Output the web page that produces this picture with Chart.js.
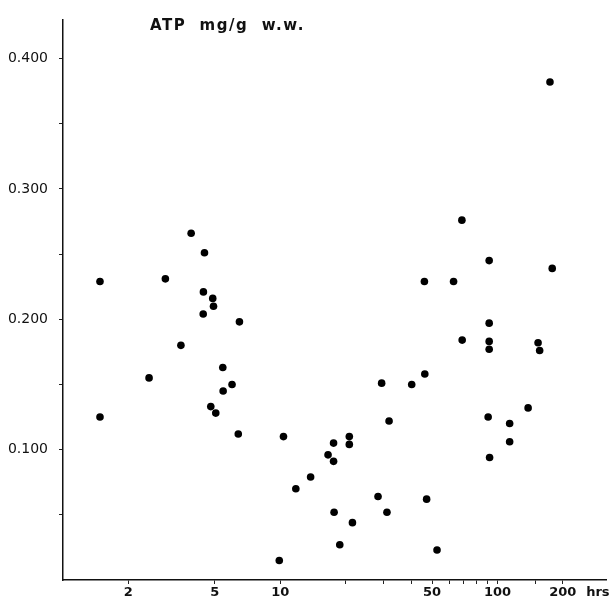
<!DOCTYPE html>
<html lang="en">
<head>
<meta charset="UTF-8">
<title>ATP mg/g w.w.</title>
<script src="https://cdn.jsdelivr.net/npm/chart.js@4/dist/chart.umd.min.js"></script>
<style>
  body { margin: 0; background: #fff; }
</style>
</head>
<body>
<canvas id="atpChart" width="611" height="601"></canvas>
<script>

// time after death (hrs) and ATP content (mg/g wet weight)
var hours = [1.48, 1.48, 2.49, 2.96, 3.49, 3.89, 4.48, 4.43, 4.89, 4.93,
             4.42, 6.49, 5.44, 6.00, 5.46, 4.79, 5.05, 6.41, 10.35, 9.90,
             11.8, 13.8, 16.6, 17.6, 17.6, 17.7, 18.8, 20.8, 20.8, 21.5,
             28.2, 29.3, 31.0, 31.7, 40.3, 46.3, 46.1, 47.2, 52.7, 62.8,
             68.6, 68.8, 91.6, 91.6, 91.6, 91.6, 90.6, 92.0, 113.8, 113.8,
             138.4, 153.8, 156.4, 174.5, 178.7];
var atp = [0.229, 0.125, 0.155, 0.231, 0.180, 0.266, 0.251, 0.221, 0.216, 0.210,
           0.204, 0.198, 0.163, 0.150, 0.145, 0.133, 0.128, 0.112, 0.110, 0.015,
           0.070, 0.079, 0.096, 0.105, 0.091, 0.052, 0.027, 0.110, 0.104, 0.044,
           0.064, 0.151, 0.052, 0.122, 0.150, 0.158, 0.229, 0.062, 0.023, 0.229,
           0.276, 0.184, 0.245, 0.197, 0.183, 0.177, 0.125, 0.094, 0.120, 0.106,
           0.132, 0.182, 0.176, 0.382, 0.239];

// axis ticks
var xLabelled = [2, 5, 10, 50, 100, 200];
var xMinor = [20, 30, 40, 60, 70, 80, 90, 150];
var xUnitPos = 290;   // where the "hrs" unit sits on the time axis
var xUnitText = 'hrs';
var yLabelled = [0.1, 0.2, 0.3, 0.4];
var yMinor = [0.05, 0.15, 0.25, 0.35];
var titleText = 'ATP  mg/g  w.w.';

var points = hours.map(function(h, i) { return { x: h, y: atp[i] }; });

// title sits inside the plot, next to the value axis
var titlePlugin = {
  id: 'innerTitle',
  afterDraw: function(chart) {
    var ctx = chart.ctx;
    var area = chart.chartArea;
    ctx.save();
    ctx.fillStyle = '#111';
    ctx.font = 'bold 15px "DejaVu Sans"';
    ctx.letterSpacing = '1.5px';
    ctx.textBaseline = 'alphabetic';
    ctx.fillText(titleText, area.left + 87, area.top + 11);
    ctx.restore();
  }
};

var config = {
  type: 'scatter',
  data: {
    datasets: [{
      label: 'ATP',
      data: points,
      backgroundColor: '#000',
      borderWidth: 0,
      pointRadius: 3.8,
      pointHoverRadius: 3.8,
    }]
  },
  options: {
    responsive: false,
    animation: false,
    layout: { padding: { left: 0, top: 14, right: 5, bottom: 0 } },
    plugins: {
      legend: { display: false },
      tooltip: { enabled: false },
    },
    scales: {
      x: {
        type: 'logarithmic',
        min: 1,
        max: 316,
        border: { display: true, color: '#111', width: 1.5 },
        grid: {
          drawOnChartArea: false,
          drawTicks: true,
          tickLength: 4,
          tickColor: function(c) {
            return (c.tick && c.tick.value === xUnitPos) ? 'rgba(0,0,0,0)' : '#222';
          },
          tickWidth: 1,
        },
        afterBuildTicks: function(scale) {
          var vals = xLabelled.concat(xMinor).concat([xUnitPos]);
          vals.sort(function(a, b) { return a - b; });
          scale.ticks = vals.map(function(v) { return { value: v }; });
        },
        afterFit: function(scale) { scale.height = 21; },
        ticks: {
          autoSkip: false,
          maxRotation: 0,
          minRotation: 0,
          padding: 1,
          color: '#111',
          font: { family: 'DejaVu Sans', size: 13, weight: 'bold' },
          callback: function(value) {
            if (value === xUnitPos) return xUnitText;
            return xLabelled.indexOf(value) >= 0 ? String(value) : '';
          }
        }
      },
      y: {
        type: 'linear',
        min: 0,
        max: 0.43,
        border: { display: true, color: '#111', width: 1.5 },
        grid: {
          drawOnChartArea: false,
          drawTicks: true,
          tickLength: 4,
          tickColor: '#222',
          tickWidth: 1,
        },
        afterBuildTicks: function(scale) {
          var vals = yLabelled.concat(yMinor);
          vals.sort(function(a, b) { return a - b; });
          scale.ticks = vals.map(function(v) { return { value: v }; });
        },
        afterFit: function(scale) { scale.width = 63; },
        ticks: {
          autoSkip: false,
          padding: 11,
          color: '#111',
          font: { family: 'DejaVu Sans', size: 14 },
          callback: function(value) {
            return yLabelled.indexOf(value) >= 0 ? value.toFixed(3) : '';
          }
        }
      }
    }
  },
  plugins: [titlePlugin]
};

window.onload = function() {
  var ctx = document.getElementById('atpChart').getContext('2d');
  window.myChart = new Chart(ctx, config);
};
</script>
</body>
</html>
